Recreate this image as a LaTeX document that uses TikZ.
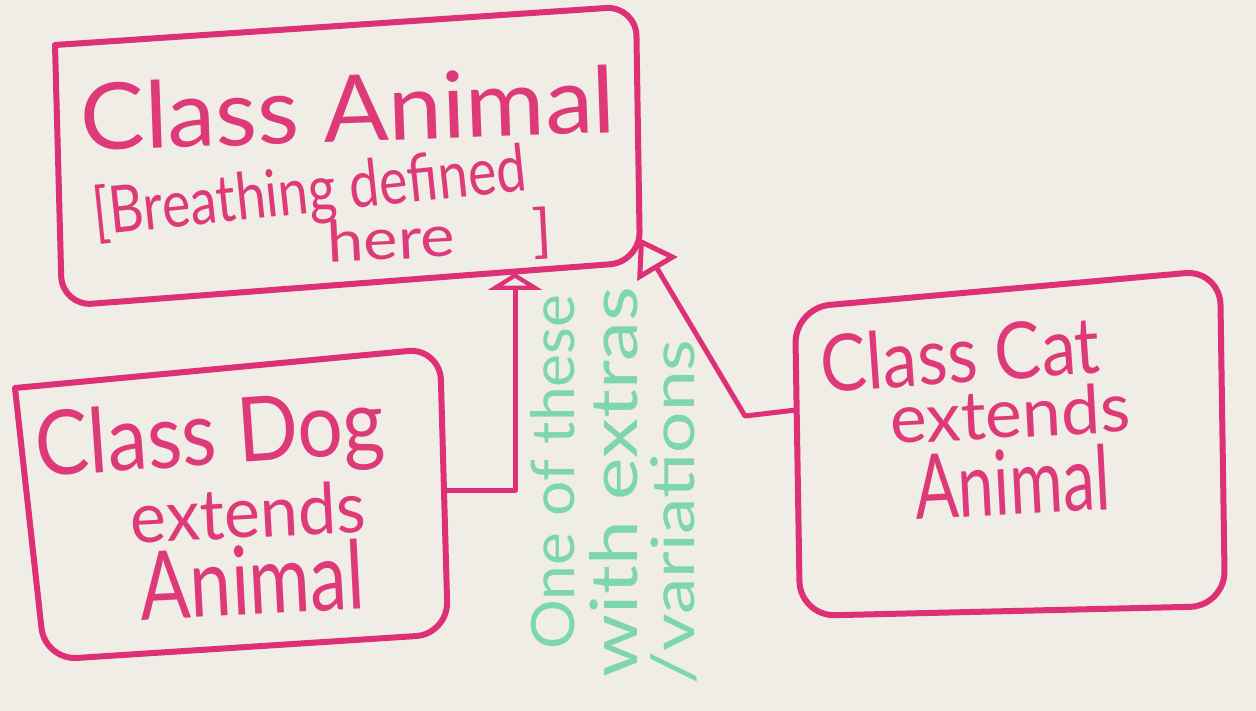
\documentclass[tikz,border=0pt]{standalone}
\usepackage{fontspec}
\setmainfont{Lato}
\usetikzlibrary{arrows.meta}
\definecolor{bg}{RGB}{239,237,229}
\definecolor{marker}{RGB}{222,48,118}
\definecolor{inkpink}{RGB}{222,58,122}
\definecolor{mint}{RGB}{125,215,170}
\newcommand{\handtext}[3]{\resizebox{#1}{#2}{#3}}
\begin{document}
\begin{tikzpicture}[x=1pt,y=-1pt,
  box/.style={draw=marker, line width=6pt, line cap=round, line join=round},
  link/.style={draw=marker, line width=5pt, line cap=round, line join=round},
  pinktext/.style={text=inkpink, inner sep=0pt, anchor=center},
  greentext/.style={text=mint, inner sep=0pt, anchor=center, rotate=90},
]
\fill[bg] (0,0) rectangle (1256,711);
\useasboundingbox (0,0) rectangle (1256,711);

% Animal box
\coordinate (a1) at (55,45);
\coordinate (a2) at (636,6);
\coordinate (a3) at (640,262);
\coordinate (a4) at (62,306);
\draw[box, rounded corners=30pt] (a1) -- (a2) -- (a3) -- (a4) -- (a1);

% Dog box
\coordinate (d1) at (15,388);
\coordinate (d2) at (440,348);
\coordinate (d3) at (448,634);
\coordinate (d4) at (45,660);
\draw[box, rounded corners=32pt] (d1) -- (d2) -- (d3) -- (d4) -- (d1);

% Cat box
\coordinate (c1) at (795,308);
\coordinate (c2) at (1220,270);
\coordinate (c3) at (1225,606);
\coordinate (c4) at (800,616);
\draw[box, rounded corners=35pt] (c1) -- (c2) -- (c3) -- (c4) -- cycle;

% connectors
\coordinate (dogR) at (445,490);
\coordinate (animB) at (515,273);
\draw[link, -{Triangle[open, length=17pt, width=54pt]}] (dogR) -| (animB);

\coordinate (catL) at (796,410);
\coordinate (catBend) at (745,416);
\coordinate (animR) at (639,238);
\draw[link, -{Triangle[open, length=36pt, width=46pt]}] (catL) -- (catBend) -- (animR);

% Animal text
\node[pinktext, rotate=2] (animalT1) at (348,108) {\handtext{535pt}{68pt}{Class Animal}};
\node[pinktext, rotate=6] (animalT2) at (310,194) {\handtext{435pt}{50pt}{[Breathing defined}};
\node[pinktext, rotate=3] (animalT3) at (440,239) {\handtext{225pt}{44pt}{here\hspace{1.2em}]}};

% Dog text
\node[pinktext, rotate=4] (dogT1) at (210,440) {\handtext{350pt}{66pt}{Class Dog}};
\node[pinktext, rotate=3] (dogT2) at (248,512) {\handtext{235pt}{52pt}{extends}};
\node[pinktext, rotate=3] (dogT3) at (252,580) {\handtext{225pt}{70pt}{Animal}};

% Cat text
\node[pinktext, rotate=4] (catT1) at (960,354) {\handtext{280pt}{58pt}{Class Cat}};
\node[pinktext, rotate=3] (catT2) at (1010,413) {\handtext{240pt}{50pt}{extends}};
\node[pinktext, rotate=3] (catT3) at (1012,482) {\handtext{195pt}{66pt}{Animal}};

% note
\node[greentext] (noteT1) at (553,472) {\handtext{355pt}{44pt}{One of these}};
\node[greentext] (noteT2) at (614,482) {\handtext{390pt}{48pt}{with extras}};
\node[greentext] (noteT3) at (674,512) {\handtext{345pt}{44pt}{/variations}};
\end{tikzpicture}
\end{document}
